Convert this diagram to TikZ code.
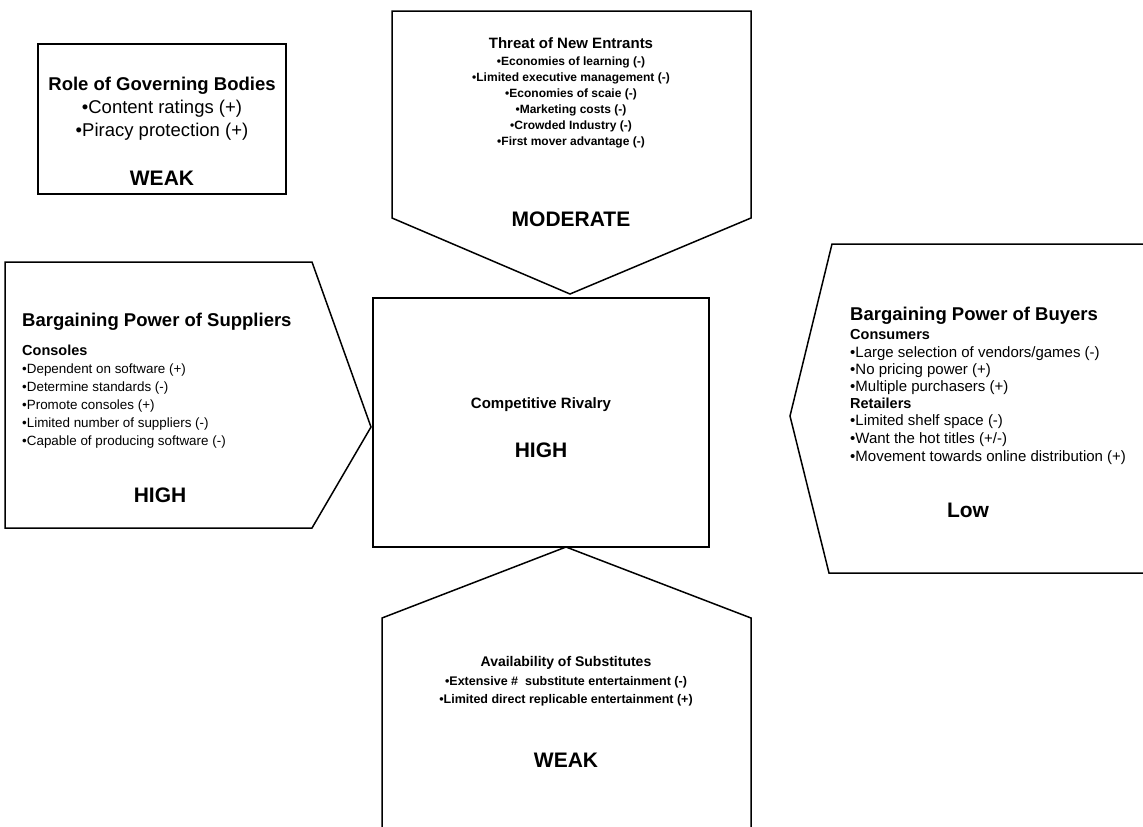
\documentclass[tikz,border=0pt]{standalone}
\usepackage{fontspec}
\setmainfont{Liberation Sans}
\begin{document}
\begin{tikzpicture}[x=1pt,y=-1pt,
  shp/.style={draw=black, line width=1.5pt, line join=miter},
  txt/.style={inner sep=0pt, anchor=base},
  txtl/.style={inner sep=0pt, anchor=base west},
  govf/.style={font=\fontsize{18.5}{20}\selectfont},
  govt/.style={font=\bfseries\fontsize{18.5}{20}\selectfont},
  ttl/.style={font=\bfseries\fontsize{15}{16}\selectfont},
  bigttl/.style={font=\bfseries\fontsize{18.5}{20}\selectfont},
  sub/.style={font=\bfseries\fontsize{14.5}{16}\selectfont},
  bul/.style={font=\fontsize{13.4}{16}\selectfont},
  bulbuy/.style={font=\fontsize{15}{16}\selectfont},
  bulb/.style={font=\bfseries\fontsize{12}{14}\selectfont},
  bulsub/.style={font=\bfseries\fontsize{12.5}{14}\selectfont},
  big/.style={font=\bfseries\fontsize{21}{22}\selectfont}
]
\useasboundingbox (0,0) rectangle (1143,827);

% Role of Governing Bodies
\draw[shp] (38,44) rectangle (286,194);
\node[txt,govt] (gt) at (162,90) {Role of Governing Bodies};
\node[txt,govf] (g1) at (162,113) {•Content ratings (+)};
\node[txt,govf] (g2) at (162,136) {•Piracy protection (+)};
\node[txt,big] (gw) at (162,185) {WEAK};

% Threat of New Entrants
\draw[shp] (392,11) -- (751,11) -- (751,218) -- (570,294) -- (392,218) -- cycle;
\node[txt,ttl] (tt) at (571,48) {Threat of New Entrants};
\node[txt,bulb] (t1) at (571,65) {•Economies of learning (-)};
\node[txt,bulb] (t2) at (571,81) {•Limited executive management (-)};
\node[txt,bulb] (t3) at (571,97) {•Economies of scaie (-)};
\node[txt,bulb] (t4) at (571,113) {•Marketing costs (-)};
\node[txt,bulb] (t5) at (571,129) {•Crowded Industry (-)};
\node[txt,bulb] (t6) at (571,145) {•First mover advantage (-)};
\node[txt,big] (tm) at (571,226) {MODERATE};

% Competitive Rivalry
\draw[shp] (373,298) rectangle (709,547);
\node[txt,ttl] (ct) at (541,408) {Competitive Rivalry};
\node[txt,big] (ch) at (541,457) {HIGH};

% Bargaining Power of Suppliers
\draw[shp] (5,262) -- (312,262) -- (371,427) -- (312,528) -- (5,528) -- cycle;
\node[txtl,bigttl] (st) at (22,326) {Bargaining Power of Suppliers};
\node[txtl,sub] (sc) at (22,355) {Consoles};
\node[txtl,bul] (s1) at (22,373) {•Dependent on software (+)};
\node[txtl,bul] (s2) at (22,391) {•Determine standards (-)};
\node[txtl,bul] (s3) at (22,409) {•Promote consoles (+)};
\node[txtl,bul] (s4) at (22,427) {•Limited number of suppliers (-)};
\node[txtl,bul] (s5) at (22,445) {•Capable of producing software (-)};
\node[txt,big] (sh) at (160,502) {HIGH};

% Bargaining Power of Buyers
\draw[shp] (1143,244) -- (832,244) -- (790,416) -- (829,573) -- (1143,573);
\node[txtl,bigttl] (bt) at (850,320) {Bargaining Power of Buyers};
\node[txtl,sub] (bc) at (850,339) {Consumers};
\node[txtl,bulbuy] (b1) at (850,357) {•Large selection of vendors/games (-)};
\node[txtl,bulbuy] (b2) at (850,374) {•No pricing power (+)};
\node[txtl,bulbuy] (b3) at (850,391) {•Multiple purchasers (+)};
\node[txtl,sub] (br) at (850,408) {Retailers};
\node[txtl,bulbuy] (b4) at (850,425) {•Limited shelf space (-)};
\node[txtl,bulbuy] (b5) at (850,443) {•Want the hot titles (+/-)};
\node[txtl,bulbuy] (b6) at (850,461) {•Movement towards online distribution (+)};
\node[txt,big] (bl) at (968,517) {Low};

% Availability of Substitutes
\draw[shp] (382,827) -- (382,618) -- (566,547) -- (751,618) -- (751,827);
\node[txt,font=\bfseries\fontsize{14}{16}\selectfont,inner sep=0pt,anchor=base] (at) at (566,666) {Availability of Substitutes};
\node[txt,bulsub] (a1) at (566,685) {•Extensive \#\ \ substitute entertainment (-)};
\node[txt,bulsub] (a2) at (566,703) {•Limited direct replicable entertainment (+)};
\node[txt,big] (aw) at (566,767) {WEAK};
\end{tikzpicture}
\end{document}
